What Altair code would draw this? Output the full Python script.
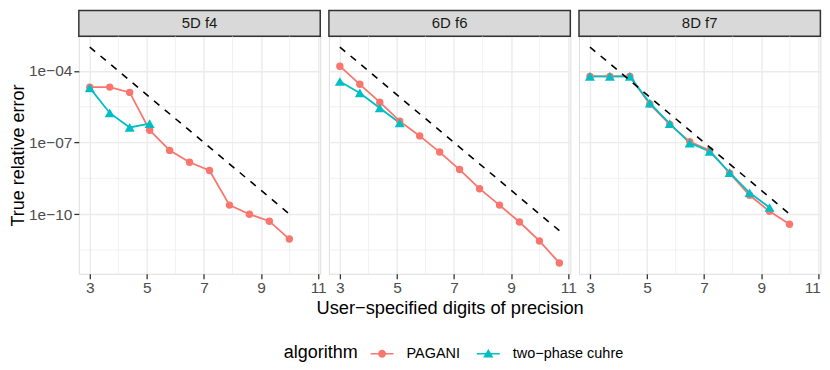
import json
import altair as alt
import pandas as pd

# ---------------- data ----------------
panels = ["5D f4", "6D f6", "8D f7"]
algorithms = ["PAGANI", "two-phase cuhre"]
colors = ["#F8766D", "#00BFC4"]

digits = [3.0, 3.699, 4.398, 5.097, 5.796, 6.495, 7.194, 7.893, 8.592, 9.291, 9.990, 10.689]

pagani_5d = [2.1e-5, 2.1e-5, 1.26e-5, 3.3e-7, 4.7e-8, 1.5e-8, 6.8e-9, 2.4e-10, 1.0e-10, 5.1e-11, 9.1e-12]
cuhre_5d = [1.95e-5, 1.74e-6, 4.3e-7, 6.2e-7]
pagani_6d = [1.58e-4, 2.75e-5, 4.9e-6, 7.9e-7, 1.9e-7, 4.0e-8, 7.4e-9, 1.17e-9, 2.4e-10, 4.7e-11, 7.6e-12, 9.1e-13]
cuhre_6d = [3.6e-5, 1.2e-5, 2.8e-6, 6.6e-7]
pagani_8d = [5.9e-5, 5.9e-5, 5.9e-5, 4.1e-6, 5.8e-7, 1.1e-7, 4.7e-8, 5.2e-9, 6.2e-10, 1.32e-10, 3.8e-11]
cuhre_8d = [5.9e-5, 5.9e-5, 5.9e-5, 4.5e-6, 6.2e-7, 9.5e-8, 4.3e-8, 5.5e-9, 7.9e-10, 1.9e-10]

# reference (dashed) line end points per panel: (x, y)
ref_start = [(3.0, 1e-3), (3.0, 1e-3), (3.0, 1e-3)]
ref_end = [(9.990, 1.02e-10), (10.689, 2.05e-11), (9.990, 1.02e-10)]

x_ticks = [3, 5, 7, 9, 11]
x_minor = [4, 6, 8, 10]
y_ticks = [1e-4, 1e-7, 1e-10]
y_tick_labels = ["1e\u221204", "1e\u221207", "1e\u221210"]
y_minor = [3.162e-6, 3.162e-9, 3.162e-12]

x_title = "User\u2212specified digits of precision"
y_title = "True relative error"
legend_title = "algorithm"

series = {
    "5D f4": (pagani_5d, cuhre_5d),
    "6D f6": (pagani_6d, cuhre_6d),
    "8D f7": (pagani_8d, cuhre_8d),
}

# ---------------- layout / style ----------------
W, H, S = 242, 238, 26
GAP = 8.7
TICK, LPAD = 5, 2
FONT = "Liberation Sans"
xscale = alt.Scale(domain=[2.616, 11.073], nice=False, zero=False)
yscale = alt.Scale(type="log", domain=[3.2e-13, 2.8e-3], nice=False)

# legend keys (line through symbol), unit = 9 px (symbolSize 324)
circle_leg = ("M-1.278,-0.083H-0.4V0.083H-1.278Z M0.4,-0.083H1.278V0.083H0.4Z "
              "M-0.444,0A0.444,0.444 0 1,1 0.444,0A0.444,0.444 0 1,1 -0.444,0Z")
tri_leg = ("M-1.278,-0.083H-0.3V0.083H-1.278Z M0.3,-0.083H1.278V0.083H0.3Z "
           "M0,-0.533L0.578,0.422L-0.578,0.422Z")

y_label_expr = "{}[indexof({}, datum.value)]".format(
    json.dumps(y_tick_labels, ensure_ascii=False), json.dumps(y_ticks))


def make_panel(i, name):
    pag, cuh = series[name]
    df = pd.DataFrame({
        "x": digits[:len(pag)] + digits[:len(cuh)],
        "err": pag + cuh,
        "algorithm": [algorithms[0]] * len(pag) + [algorithms[1]] * len(cuh),
    })
    ref = pd.DataFrame({"x": [ref_start[i][0], ref_end[i][0]],
                        "err": [ref_start[i][1], ref_end[i][1]]})
    last = x_ticks[-1]

    xaxis_kw = dict(values=x_ticks, grid=True, gridColor="#EBEBEB",
                    gridWidth=1.4, domain=False, tickColor="#333333", tickSize=TICK,
                    tickWidth=1.3, labelFontSize=15.5, labelColor="#4D4D4D",
                    labelPadding=LPAD, labelFont=FONT, labelFlush=False)
    if i == 1:
        xaxis = alt.Axis(title=x_title, titleFontSize=18.3, titleFontWeight="normal",
                         titleColor="black", titlePadding=3, titleFont=FONT,
                         format="d", **xaxis_kw)
    elif i == 2:
        # last label drawn as a text mark below so that it stays inside the window
        xaxis = alt.Axis(title=None,
                         labelExpr=f"datum.value == {last} ? '' : format(datum.value, 'd')",
                         **xaxis_kw)
    else:
        xaxis = alt.Axis(title=None, format="d", **xaxis_kw)

    if i == 0:
        yaxis = alt.Axis(title=y_title, values=y_ticks, labelExpr=y_label_expr,
                         grid=True, gridColor="#EBEBEB", gridWidth=1.4, domain=False,
                         tickColor="#333333", tickSize=5, tickWidth=1.3,
                         labelFontSize=15.5, labelColor="#4D4D4D", labelPadding=2,
                         labelFont=FONT, titleFontSize=18, titleFontWeight="normal",
                         titleColor="black", titlePadding=1, titleFont=FONT)
    else:
        yaxis = alt.Axis(title=None, values=y_ticks, grid=True, gridColor="#EBEBEB",
                         gridWidth=1.4, domain=False, ticks=False, labels=False)

    X = lambda f: alt.X(f + ":Q", scale=xscale, axis=xaxis)
    Y = lambda f: alt.Y(f + ":Q", scale=yscale, axis=yaxis)

    strip_df = pd.DataFrame({"panel": [name]})
    strip = alt.Chart(strip_df).mark_rect(
        fill="#D9D9D9", stroke="#333333", strokeWidth=1.5
    ).encode(x=alt.value(0), x2=alt.value(W), y=alt.value(-S), y2=alt.value(0))
    strip_text = alt.Chart(strip_df).mark_text(
        fontSize=15, color="#1A1A1A", font=FONT, align="center", baseline="middle"
    ).encode(text="panel:N", x=alt.value(W / 2), y=alt.value(-S / 2))

    vminor = alt.Chart(pd.DataFrame({"x": x_minor})).mark_rule(
        color="#EBEBEB", strokeWidth=0.7).encode(x=X("x"))
    hminor = alt.Chart(pd.DataFrame({"y": y_minor})).mark_rule(
        color="#EBEBEB", strokeWidth=0.7).encode(y=Y("y"))

    layers = [strip, strip_text, vminor, hminor]
    for k, alg in enumerate(algorithms):
        sub = df[df["algorithm"] == alg]
        layers.append(alt.Chart(sub).mark_line(color=colors[k], strokeWidth=1.8)
                      .encode(x=X("x"), y=Y("err")))
    pts_shape = ["circle", "triangle-up"]
    pts_size = [55, 100]
    for k, alg in enumerate(algorithms):
        sub = df[df["algorithm"] == alg]
        layers.append(alt.Chart(sub).mark_point(
            filled=True, opacity=1, color=colors[k], shape=pts_shape[k],
            size=pts_size[k]).encode(x=X("x"), y=Y("err")))
    layers.append(alt.Chart(ref).mark_line(color="black", strokeDash=[7, 7],
                                           strokeWidth=1.6)
                  .encode(x=X("x"), y=Y("err")))

    if i == 2:
        last_df = pd.DataFrame({"x": [last], "label": [str(last)]})
        layers.append(alt.Chart(last_df).mark_text(
            align="right", baseline="top", dx=2.5, fontSize=15.5, color="#4D4D4D",
            font=FONT
        ).encode(x=X("x"), y=alt.value(H + TICK + LPAD), text="label:N"))

    if i == 0:
        leg = alt.Legend(title=legend_title, orient="none", legendX=205.5, legendY=309,
                         direction="horizontal", titleOrient="left", titleFontSize=18,
                         titleFontWeight="normal", titleColor="black", titleFont=FONT,
                         labelFontSize=14.5, labelColor="black", labelFont=FONT,
                         symbolSize=324, symbolOpacity=1, symbolStrokeWidth=0,
                         labelOffset=15.5, columnPadding=15.5, titlePadding=14.5,
                         labelExpr="replace(datum.label, '-', '\u2212')")
        dummy = alt.Chart(pd.DataFrame({"algorithm": algorithms})).mark_point(
            filled=True, opacity=0
        ).encode(
            x=alt.value(0), y=alt.value(0),
            color=alt.Color("algorithm:N", scale=alt.Scale(domain=algorithms, range=colors),
                            legend=leg),
            shape=alt.Shape("algorithm:N",
                            scale=alt.Scale(domain=algorithms, range=[circle_leg, tri_leg]),
                            legend=leg),
        )
        layers.append(dummy)

    return alt.layer(*layers).properties(width=W, height=H)


chart = alt.hconcat(
    *[make_panel(i, p) for i, p in enumerate(panels)], spacing=GAP, bounds="flush"
).properties(padding=0).configure_view(
    stroke="#333333", strokeWidth=1.5
).configure(font=FONT)

chart.save("out.html", embed_options={"renderer": "svg", "actions": False})
